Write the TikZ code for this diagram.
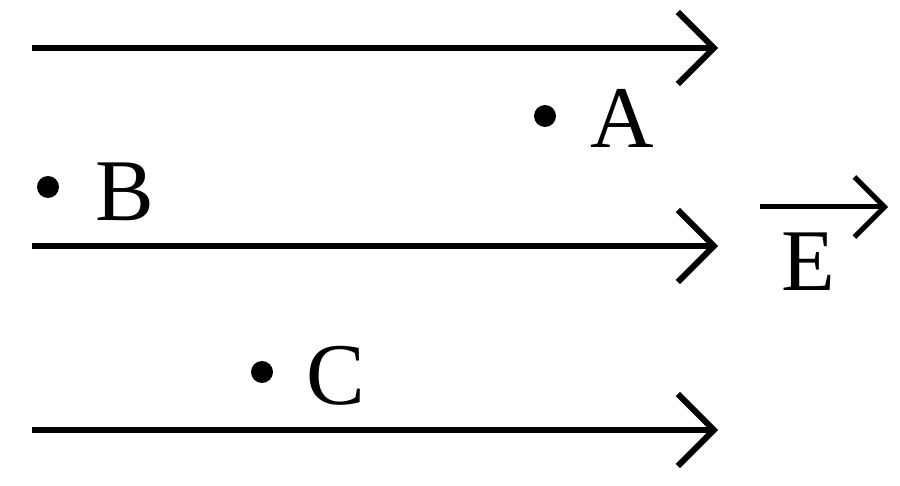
\documentclass[tikz,border=0pt]{standalone}
\usepackage{fontspec}
\setmainfont{Liberation Serif}
\usetikzlibrary{arrows.meta}
\begin{document}
\begin{tikzpicture}[x=1pt,y=-1pt,
  fl/.style={line width=6pt,-{Straight Barb[length=36pt,width=72pt,line width=6pt]}},
  dot/.style={circle,fill=black,inner sep=0pt,minimum size=22pt},
  lab/.style={font=\fontsize{88}{88}\selectfont,inner sep=0pt}]
\useasboundingbox (0,0) rectangle (900,486);
\coordinate (t1) at (32,48); \coordinate (t2) at (718,48);
\coordinate (m1) at (32,246); \coordinate (m2) at (718,246);
\coordinate (b1) at (32,430); \coordinate (b2) at (718,430);
\draw[fl] (t1) -- (t2);
\draw[fl] (m1) -- (m2);
\draw[fl] (b1) -- (b2);
\node[dot] (pa) at (545,116) {};
\node[dot] (pb) at (48,187) {};
\node[dot] (pc) at (262,372) {};
\node[lab] (la) at (622,118) {A};
\node[lab] (lb) at (125,192) {B};
\node[lab] (lc) at (336,376) {C};
\node[lab] (le) at (808,262) {E};
\coordinate (e1) at (760,207); \coordinate (e2) at (888,207);
\draw[line width=5pt,-{Straight Barb[length=30pt,width=60pt,line width=5pt]}] (e1) -- (e2);
\end{tikzpicture}
\end{document}
